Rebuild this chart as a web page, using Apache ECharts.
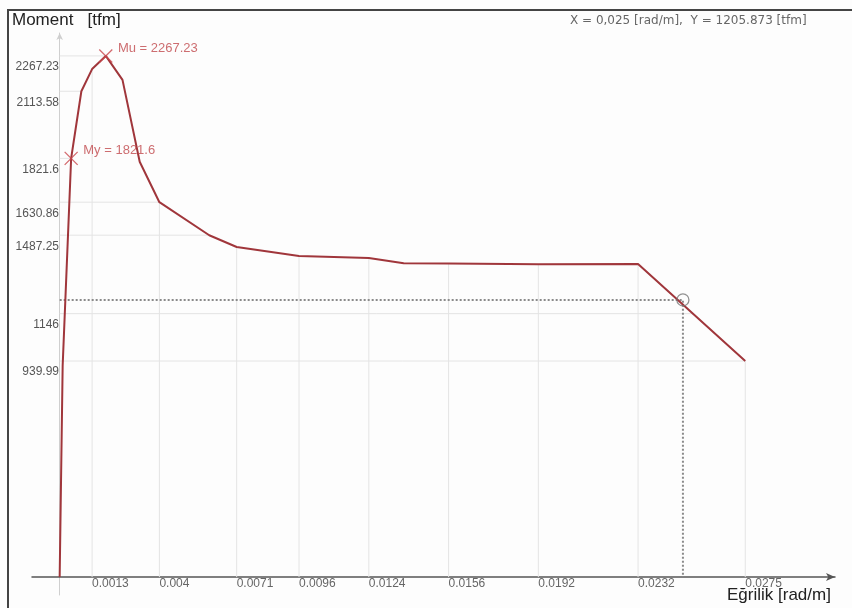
<!DOCTYPE html>
<html>
<head>
<meta charset="utf-8">
<script src="https://cdn.jsdelivr.net/npm/echarts@6/dist/echarts.min.js"></script>
<style>
  html, body { margin: 0; padding: 0; background: #ffffff; }
  #chart { width: 852px; height: 608px; }
</style>
</head>
<body>
<div id="chart"></div>
<script>
// Moment–curvature curve of the section
const curvature = [0, 0.00012, 0.00046, 0.00087, 0.0013, 0.00185, 0.00252, 0.00321, 0.004,
                   0.006, 0.0071, 0.0096, 0.0124, 0.0138, 0.0156, 0.0192, 0.0232, 0.0275];
const moment    = [0, 920, 1821.6, 2113.58, 2210, 2267.23, 2163, 1807, 1630.86,
                   1487.25, 1436, 1397, 1388, 1365, 1364, 1361, 1362, 939.99];

// Tick values shown on the axes
const xTicks = [0.0013, 0.004, 0.0071, 0.0096, 0.0124, 0.0156, 0.0192, 0.0232, 0.0275];
const yTicks = [2267.23, 2113.58, 1821.6, 1630.86, 1487.25, 1146, 939.99];
// curvature where each moment guide line meets the curve
const yTickReach = [0.00185, 0.00087, 0.00046, 0.004, 0.006, 0.0254, 0.0275];

// Yield and ultimate points
const yieldPoint = { name: 'My', x: 0.00046, y: 1821.6 };
const ultimatePoint = { name: 'Mu', x: 0.00185, y: 2267.23 };

// Cursor read-out
const cursorX = 0.025;
const cursorY = 1205.873;

const curveColor = '#a0363b';
const guideColor = '#e4e4e4';

function momentAt(x) {
  const i = curvature.indexOf(x);
  return moment[i];
}

const guideSeries = [];
xTicks.forEach(function (x) {
  guideSeries.push({
    type: 'line', silent: true, symbol: 'none', z: 1,
    lineStyle: { color: guideColor, width: 1 },
    data: [[x, 0], [x, momentAt(x)]]
  });
});
yTicks.forEach(function (y, i) {
  guideSeries.push({
    type: 'line', silent: true, symbol: 'none', z: 1,
    lineStyle: { color: guideColor, width: 1 },
    data: [[0, y], [yTickReach[i], y]]
  });
});

const chart = echarts.init(document.getElementById('chart'), null, { renderer: 'canvas' });

const option = {
  animation: false,
  backgroundColor: '#fdfdfd',
  grid: { left: 32, right: 17, top: 33, bottom: 13, containLabel: false, outerBoundsMode: 'none' },
  xAxis: {
    type: 'value',
    min: -0.00111,
    max: 0.0311,
    axisLine: {
      onZero: true,
      symbol: ['none', 'arrow'],
      symbolSize: [6, 9],
      lineStyle: { color: '#555', width: 1.5 }
    },
    axisTick: { show: false },
    splitLine: { show: false },
    axisLabel: {
      customValues: xTicks,
      formatter: function (v) { return String(v); },
      align: 'left',
      margin: -17,
      color: '#666',
      fontSize: 12,
      fontFamily: 'Liberation Sans'
    }
  },
  yAxis: {
    type: 'value',
    min: -78,
    max: 2367,
    axisLine: {
      onZero: true,
      symbol: ['none', 'arrow'],
      symbolSize: [5, 7],
      lineStyle: { color: '#cfcfcf', width: 1 }
    },
    axisTick: { show: false },
    splitLine: { show: false },
    axisLabel: {
      customValues: yTicks,
      formatter: function (v) { return String(v); },
      align: 'right',
      verticalAlign: 'top',
      padding: [5, 0, 0, 0],
      margin: -27,
      color: '#555',
      fontSize: 12,
      fontFamily: 'Liberation Sans'
    }
  },
  graphic: [
    {
      type: 'rect', silent: true, z: 100,
      shape: { x: 8, y: 10, width: 852, height: 606 },
      style: { fill: 'none', stroke: '#444', lineWidth: 2 }
    },
    {
      type: 'text', left: 12, top: 12, z: 100,
      style: { text: 'Moment   [tfm]', font: '17px "Liberation Sans"', fill: '#222' }
    },
    {
      type: 'text', left: 727, top: 587, z: 100,
      style: { text: 'Eğrilik [rad/m]', font: '17px "Liberation Sans"', fill: '#222' }
    },
    {
      type: 'text', left: 570, top: 15, z: 100,
      style: {
        text: 'X = ' + cursorX.toFixed(3).replace('.', ',') + ' [rad/m],  Y = ' + cursorY + ' [tfm]',
        font: '12px "DejaVu Sans"', fill: '#666'
      }
    }
  ],
  series: guideSeries.concat([
    {
      name: 'cursor',
      type: 'line', silent: true, symbol: 'none', z: 3,
      lineStyle: { color: '#8a8a8a', width: 2, type: [2, 2] },
      data: [[0, cursorY], [cursorX, cursorY], [cursorX, 0]]
    },
    {
      name: 'M-K',
      type: 'line',
      symbol: 'none',
      z: 5,
      lineStyle: { color: curveColor, width: 2 },
      data: curvature.map(function (x, i) { return [x, moment[i]]; })
    },
    {
      name: 'limits',
      type: 'scatter',
      z: 6,
      symbol: 'path://M0,0L10,10M10,0L0,10',
      symbolSize: 13,
      itemStyle: { color: 'transparent', borderColor: '#c9464b', borderWidth: 1.3 },
      label: {
        show: true,
        position: 'right',
        offset: [0, -8],
        color: '#c0484c',
        fontSize: 13,
        fontFamily: 'Liberation Sans',
        formatter: function (p) { return p.data.name + ' = ' + p.data.value[1]; }
      },
      data: [
        { name: yieldPoint.name, value: [yieldPoint.x, yieldPoint.y] },
        { name: ultimatePoint.name, value: [ultimatePoint.x, ultimatePoint.y] }
      ]
    },
    {
      name: 'cursorMark',
      type: 'scatter',
      z: 7,
      symbol: 'circle',
      symbolSize: 12,
      itemStyle: { color: 'transparent', borderColor: '#777', borderWidth: 1.3 },
      data: [[cursorX, cursorY]]
    }
  ])
};

chart.setOption(option);
</script>
</body>
</html>
